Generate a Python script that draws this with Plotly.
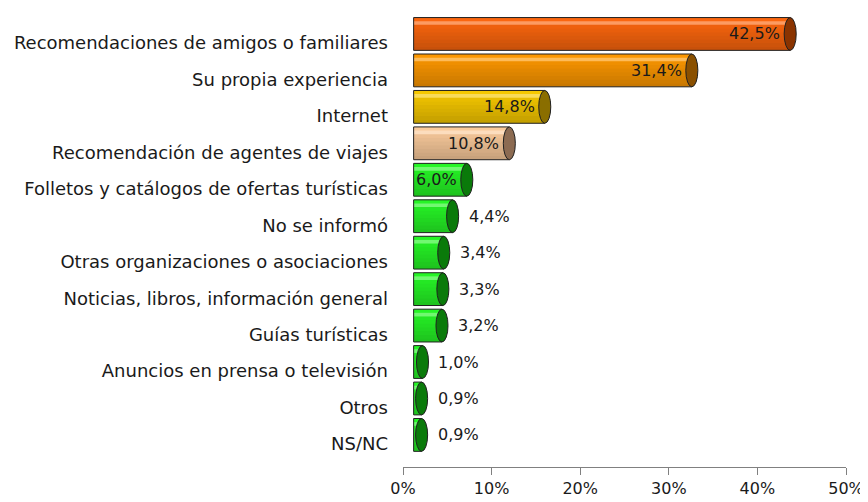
import plotly.graph_objects as go

# ------------------------------
# Datos
# ------------------------------
categorias = [
    "Recomendaciones de amigos o familiares",
    "Su propia experiencia",
    "Internet",
    "Recomendación de agentes de viajes",
    "Folletos y catálogos de ofertas turísticas",
    "No se informó",
    "Otras organizaciones o asociaciones",
    "Noticias, libros, información general",
    "Guías turísticas",
    "Anuncios en prensa o televisión",
    "Otros",
    "NS/NC",
]
valores = [42.5, 31.4, 14.8, 10.8, 6.0, 4.4, 3.4, 3.3, 3.2, 1.0, 0.9, 0.9]
etiquetas = ["42,5%", "31,4%", "14,8%", "10,8%", "6,0%", "4,4%", "3,4%",
             "3,3%", "3,2%", "1,0%", "0,9%", "0,9%"]
ticks_x = [0, 10, 20, 30, 40, 50]
ticks_x_texto = ["0%", "10%", "20%", "30%", "40%", "50%"]

# colores del cuerpo y de la tapa del cilindro
verde, verde_tapa = "#26F526", "#0A7A0A"
colores = ["#FB660E", "#FC9700", "#F6C800", "#FACB9C"] + [verde] * 8
colores_tapa = ["#8A3300", "#8A5000", "#8A6E00", "#8C6B52"] + [verde_tapa] * 8

# ------------------------------
# Estilo (efecto 3D)
# ------------------------------
base = 1.2          # desplazamiento de profundidad
ancho = 0.9         # grosor de la barra
desfase = -0.70     # barras algo por encima de la etiqueta
tapa = 0.68         # semi-ancho de la tapa elíptica
fuente = "DejaVu Sans"

pos = list(range(len(categorias)))

fig = go.Figure()

# cuerpo de la barra
fig.add_trace(go.Bar(
    y=pos, x=valores, base=base, orientation="h",
    width=ancho, offset=desfase,
    marker=dict(color=colores, line=dict(width=0)),
    hoverinfo="skip", showlegend=False,
))

# bandas de sombreado (degradado vertical)
n_bandas = 9
for k in range(n_bandas):
    if k == 1:
        color = "rgba(255,255,255,0.35)"
    else:
        color = f"rgba(0,0,0,{0.025 * k:.3f})"
    fig.add_trace(go.Bar(
        y=pos, x=valores, base=base, orientation="h",
        width=ancho / n_bandas, offset=desfase + k * ancho / n_bandas,
        marker=dict(color=color, line=dict(width=0)),
        hoverinfo="skip", showlegend=False,
    ))

# contorno
fig.add_trace(go.Bar(
    y=pos, x=valores, base=base, orientation="h",
    width=ancho, offset=desfase,
    marker=dict(color="rgba(0,0,0,0)", line=dict(color="#202020", width=1)),
    hoverinfo="skip", showlegend=False,
))

# tapas elípticas y etiquetas
for i, v in enumerate(valores):
    fin = base + v
    fig.add_shape(
        type="circle", xref="x", yref="y",
        x0=fin - tapa, x1=fin + tapa,
        y0=i + desfase, y1=i + desfase + ancho,
        fillcolor=colores_tapa[i], line=dict(color="#202020", width=1),
    )
    dentro = i < 5
    fig.add_annotation(
        x=fin, y=i + desfase + ancho / 2, xref="x", yref="y",
        text=etiquetas[i], showarrow=False,
        xanchor="right" if dentro else "left",
        xshift=-8 if dentro else 14,
        font=dict(family=fuente, size=16, color="#1a1a1a"),
    )

# la página añade 8 px de margen al cuerpo: se descuentan aquí
fig.update_layout(
    width=860, height=494,
    margin=dict(l=395, r=22, t=3, b=35),
    paper_bgcolor="white", plot_bgcolor="white",
    barmode="overlay",
    font=dict(family=fuente, color="#1a1a1a"),
    xaxis=dict(
        range=[0, 50], tickvals=ticks_x, ticktext=ticks_x_texto,
        automargin=False,
        showgrid=False, zeroline=False,
        showline=True, linecolor="#808080", linewidth=1,
        ticks="outside", ticklen=7, tickcolor="#808080",
        ticklabelstandoff=0,
        tickfont=dict(size=16, family=fuente, color="#1a1a1a"),
    ),
    yaxis=dict(
        range=[11.63, -0.88], tickvals=pos, ticktext=categorias,
        automargin=False,
        showgrid=False, zeroline=False, showline=False, ticks="",
        ticklabelstandoff=14,
        tickfont=dict(size=18, family=fuente, color="#1a1a1a"),
    ),
)

fig.write_html("out.html")
